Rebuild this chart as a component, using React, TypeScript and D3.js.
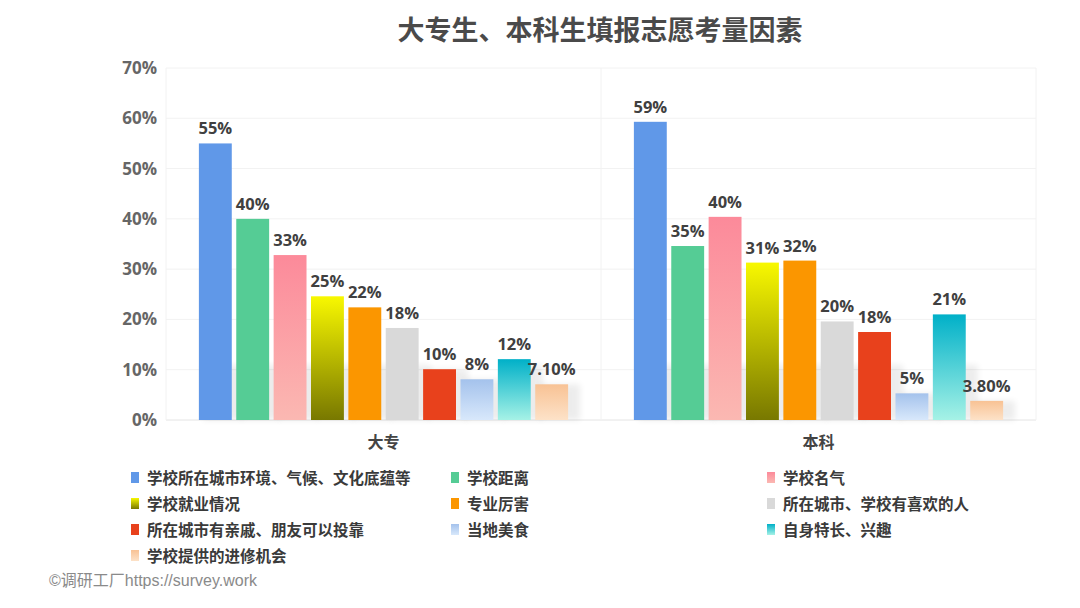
import React from "react";
import * as d3 from "d3";

const title = "大专生、本科生填报志愿考量因素";
const groups = ["大专", "本科"];
const factors = [
  "学校所在城市环境、气候、文化底蕴等",
  "学校距离",
  "学校名气",
  "学校就业情况",
  "专业厉害",
  "所在城市、学校有喜欢的人",
  "所在城市有亲戚、朋友可以投靠",
  "当地美食",
  "自身特长、兴趣",
  "学校提供的进修机会",
];
const dazhuanValues = [55, 40, 32.8, 24.6, 22.4, 18.3, 10.1, 8.1, 12.1, 7.1];
const benkeValues = [59.3, 34.6, 40.4, 31.3, 31.7, 19.6, 17.5, 5.3, 21, 3.8];
const dazhuanLabels = ["55%", "40%", "33%", "25%", "22%", "18%", "10%", "8%", "12%", "7.10%"];
const benkeLabels = ["59%", "35%", "40%", "31%", "32%", "20%", "18%", "5%", "21%", "3.80%"];
const yTicks = [0, 10, 20, 30, 40, 50, 60, 70];
const footer = "©调研工厂https://survey.work";

// gradient colours [top, bottom]
const colors: [string, string][] = [
  ["#6098e8", "#6098e8"],
  ["#55cc95", "#55cc95"],
  ["#fc8a9a", "#fbb8b2"],
  ["#f8f800", "#787800"],
  ["#fb9600", "#fb9600"],
  ["#d9d9d9", "#d9d9d9"],
  ["#e8411c", "#e8411c"],
  ["#a4c2ec", "#d8e8fb"],
  ["#00b0c8", "#a6f2e6"],
  ["#f8c294", "#fde2c8"],
];

const FONT = "'Open Sans', 'Noto Sans CJK SC', sans-serif";
const CJK = "'Noto Sans CJK SC', 'Open Sans', sans-serif";

export default function App() {
  const left = 166, right = 1036, top = 68, bottom = 420;
  const y = d3.scaleLinear().domain([0, 70]).range([bottom, top]);
  const x0 = d3.scaleBand<string>().domain(groups).range([left, right]).padding(0);
  const x1 = d3
    .scaleBand<number>()
    .domain(d3.range(factors.length))
    .range([0, x0.bandwidth()])
    .paddingInner(0.12)
    .paddingOuter(0.88);
  const seriesVals = [dazhuanValues, benkeValues];
  const seriesLabels = [dazhuanLabels, benkeLabels];
  const legendCols = [131, 451, 767];
  const legendRows = [478, 504, 530, 556];

  return (
    <svg
      width={1080}
      height={608}
      style={{ position: "absolute", left: 0, top: 0, background: "#fff" }}
    >
      <defs>
        {colors.map((c, i) => (
          <linearGradient key={i} id={`g${i}`} x1="0" y1="0" x2="0" y2="1">
            <stop offset="0%" stopColor={c[0]} />
            <stop offset="100%" stopColor={c[1]} />
          </linearGradient>
        ))}
        <filter id="blur" x="-50%" y="-50%" width="200%" height="200%">
          <feGaussianBlur stdDeviation="3" />
        </filter>
      </defs>
      <rect width={1080} height={608} fill="#fff" />
      <text
        x={600}
        y={40}
        textAnchor="middle"
        fontFamily={CJK}
        fontWeight={700}
        fontSize={27}
        fill="#4a4a4a"
      >
        {title}
      </text>
      {/* grid */}
      {yTicks.map((t) => (
        <g key={t}>
          <line x1={left} x2={right} y1={y(t)} y2={y(t)} stroke={t === 0 ? "#e4e4e4" : "#f2f2f2"} strokeWidth={1} />
          <text
            x={157}
            y={y(t) + 6}
            textAnchor="end"
            fontFamily={FONT}
            fontWeight={700}
            fontSize={17}
            fill="#666"
          >
            {t}%
          </text>
        </g>
      ))}
      {[left, left + x0.bandwidth(), right].map((vx, i) => (
        <line key={i} x1={vx} x2={vx} y1={top} y2={bottom} stroke="#f2f2f2" />
      ))}
      {/* bars */}
      {groups.map((g, gi) => (
        <g key={g} transform={`translate(${x0(g)},0)`}>
          {seriesVals[gi].map((v, i) => {
            const bx = x1(i)!;
            const bw = x1.bandwidth();
            const h = bottom - y(v);
            const sh = Math.min(h, 55);
            return (
              <rect
                key={"s" + i}
                x={bx + 4}
                y={bottom - sh}
                width={bw + 8}
                height={sh}
                fill="#000"
                opacity={0.07}
                filter="url(#blur)"
              />
            );
          })}
          {seriesVals[gi].map((v, i) => {
            const bx = x1(i)!;
            const bw = x1.bandwidth();
            return (
              <g key={i}>
                <rect
                  x={bx}
                  y={y(v)}
                  width={bw}
                  height={bottom - y(v)}
                  fill={`url(#g${i})`}
                />
                <text
                  x={bx + bw / 2}
                  y={y(v) - 9}
                  textAnchor="middle"
                  fontFamily={FONT}
                  fontWeight={700}
                  fontSize={16.5}
                  fill="#404040"
                >
                  {seriesLabels[gi][i]}
                </text>
              </g>
            );
          })}
          <text
            x={x0.bandwidth() / 2}
            y={448}
            textAnchor="middle"
            fontFamily={CJK}
            fontWeight={700}
            fontSize={16}
            fill="#444"
          >
            {g}
          </text>
        </g>
      ))}
      {/* legend */}
      {factors.map((f, i) => {
        const lx = legendCols[i % 3];
        const ly = legendRows[Math.floor(i / 3)];
        return (
          <g key={f}>
            <rect x={lx} y={ly - 6} width={8} height={11} fill={`url(#g${i})`} />
            <text x={lx + 16} y={ly + 6} fontFamily={CJK} fontWeight={700} fontSize={15.5} fill="#3a3a3a">
              {f}
            </text>
          </g>
        );
      })}
      <text x={49} y={586} fontFamily={"'Liberation Sans', 'Noto Sans CJK SC', sans-serif"} fontSize={16} fill="#8a8a8a">
        {footer}
      </text>
    </svg>
  );
}
